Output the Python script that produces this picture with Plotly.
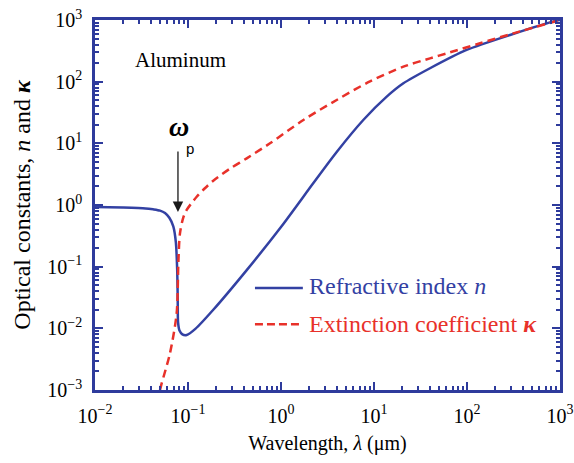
import plotly.graph_objects as go

# Refractive index n of aluminum
lam_n = [0.01, 0.02, 0.035, 0.042, 0.05, 0.0566, 0.063, 0.0695, 0.074, 0.0765,
         0.0775, 0.0782, 0.081, 0.087, 0.0968, 0.12, 0.187, 0.428, 1.0, 2.22,
         3.97, 7.67, 13.7, 20.7, 40.0, 99, 290, 920, 1000]
n_vals = [0.93, 0.91, 0.88, 0.85, 0.81, 0.74, 0.62, 0.45, 0.25, 0.09,
          0.03, 0.0125, 0.0092, 0.0080, 0.0078, 0.0098, 0.0200, 0.088, 0.44, 2.25,
          7.24, 23.9, 57.1, 94, 165, 327, 571, 977, 1000]

# Extinction coefficient kappa
lam_k = [0.05, 0.0521, 0.064, 0.0755, 0.0787, 0.082, 0.0891, 0.0968, 0.124, 0.151,
         0.187, 0.28, 0.428, 0.762, 1.74, 3.97, 9.06, 20.7, 40.0, 60.5,
         138, 315, 1000]
k_vals = [0.001, 0.00128, 0.00394, 0.0175, 0.113, 0.348, 0.631, 0.832, 1.36, 1.85,
          2.48, 3.85, 5.71, 10.0, 23.9, 50.5, 101, 175, 239, 288,
          419, 608, 1000]

x_exps = [-2, -1, 0, 1, 2, 3]
y_exps = [-3, -2, -1, 0, 1, 2, 3]

AXC = "#2E3B9C"
BLUE = "#3341A3"
RED = "#E8312A"
FONT = "Liberation Serif"


def lbl(e):
    s = ("\u2212" + str(-e)) if e < 0 else str(e)
    return "10<sup>" + s + "</sup>"


def minors(lo, hi):
    return [m * 10 ** k for k in range(lo, hi) for m in range(2, 10)]


fig = go.Figure()
fig.add_trace(go.Scatter(x=lam_n, y=n_vals, mode="lines",
                         line=dict(color=BLUE, width=2.5, shape="spline", smoothing=0.7),
                         showlegend=False))
fig.add_trace(go.Scatter(x=lam_k, y=k_vals, mode="lines",
                         line=dict(color=RED, width=2.5, dash="8px,5px", shape="spline",
                                   smoothing=0.8),
                         showlegend=False))

axis_common = dict(type="log", showline=True, linecolor=AXC, linewidth=2.5,
                   mirror="ticks", ticks="inside", ticklen=8, tickwidth=2,
                   tickcolor=AXC, showgrid=False, zeroline=False,
                   tickfont=dict(family=FONT, size=20, color="black"))

fig.update_layout(
    width=574, height=463,
    margin=dict(l=95, r=14, t=20, b=73, autoexpand=False),
    paper_bgcolor="white", plot_bgcolor="white",
    font=dict(family=FONT, color="black"),
    xaxis=dict(axis_common, range=[-2, 3], tickmode="array",
               tickvals=[10 ** e for e in x_exps], ticktext=[lbl(e) for e in x_exps],
               ticklabelstandoff=6,
               minor=dict(tickmode="array", tickvals=minors(-2, 3), ticks="inside",
                          ticklen=4, tickwidth=2, tickcolor=AXC, showgrid=False),
               title=dict(text="Wavelength, <i>\u03bb</i> (\u03bcm)",
                          font=dict(family=FONT, size=20, color="black"), standoff=11)),
    yaxis=dict(axis_common, range=[-3, 3], tickmode="array",
               tickvals=[10 ** e for e in y_exps], ticktext=[lbl(e) for e in y_exps],
               ticklabelstandoff=6,
               minor=dict(tickmode="array", tickvals=minors(-3, 3), ticks="inside",
                          ticklen=4, tickwidth=2, tickcolor=AXC, showgrid=False),
               title=dict(text="Optical constants, <i>n</i> and <b><i>\u03ba</i></b>",
                          font=dict(family=FONT, size=24, color="black"), standoff=10)),
)

# legend drawn manually
fig.add_shape(type="line", xref="paper", yref="paper", x0=0.344, x1=0.447,
              y0=0.276, y1=0.276, line=dict(color=BLUE, width=2.5))
fig.add_shape(type="line", xref="paper", yref="paper", x0=0.344, x1=0.447,
              y0=0.178, y1=0.178, line=dict(color=RED, width=2.5, dash="8px,4px"))
fig.add_annotation(xref="paper", yref="paper", x=0.456, y=0.276, xanchor="left",
                   yanchor="middle", showarrow=False, yshift=2,
                   text="Refractive index <i>n</i>",
                   font=dict(family=FONT, size=24, color=BLUE))
fig.add_annotation(xref="paper", yref="paper", x=0.456, y=0.178, xanchor="left",
                   yanchor="middle", showarrow=False, yshift=0,
                   text="Extinction coefficient <b><i>\u03ba</i></b>",
                   font=dict(family=FONT, size=24, color=RED))

fig.add_annotation(xref="paper", yref="paper", x=0.183, y=0.893, xanchor="center",
                   yanchor="middle", showarrow=False,
                   text="Aluminum", font=dict(family=FONT, size=21, color="black"))

# plasma frequency arrow
fig.add_annotation(x=-1.108, y=-0.113, xref="x", yref="y", text="", showarrow=True,
                   ax=0, ay=-62, arrowhead=2, arrowsize=1.6, arrowwidth=1.3,
                   arrowcolor="#1a1a1a")
fig.add_annotation(x=-1.108, y=-0.113, xref="x", yref="y", showarrow=False,
                   xshift=1, yshift=85,
                   text="<b><i>\u03c9</i></b>",
                   font=dict(family=FONT, size=28, color="black"))
fig.add_annotation(x=-1.108, y=-0.113, xref="x", yref="y", showarrow=False,
                   xshift=12, yshift=63,
                   text="p", font=dict(family="Liberation Sans", size=15, color="black"))

fig.write_html("out.html")
